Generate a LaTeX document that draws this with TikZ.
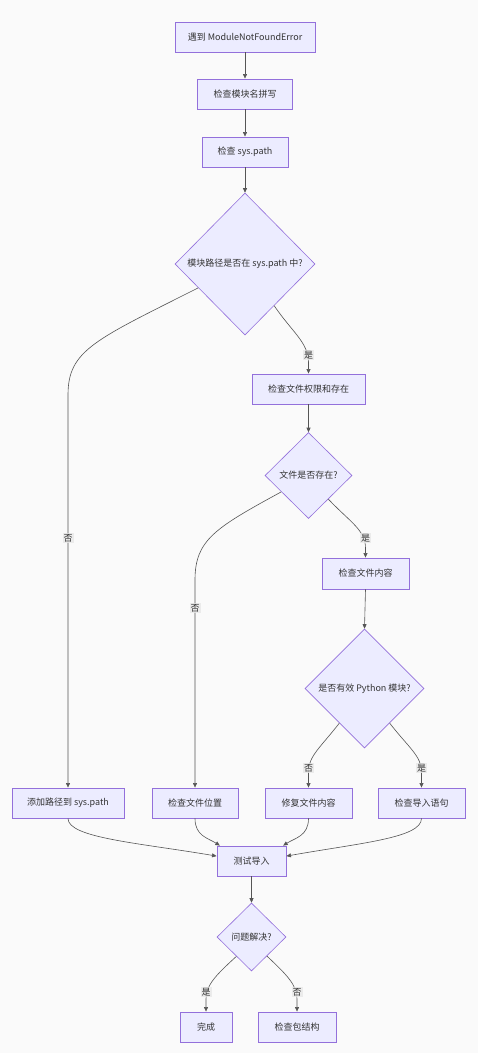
\documentclass[tikz,border=0pt]{standalone}
\usepackage{fontspec}
\setmainfont{Noto Sans CJK SC}
\usetikzlibrary{shapes.geometric,arrows.meta}
\definecolor{boxfill}{HTML}{ECECFF}
\definecolor{boxline}{HTML}{9370DB}
\definecolor{edgecol}{HTML}{555555}
\definecolor{bgcol}{HTML}{FAFAFA}
\definecolor{txtcol}{HTML}{333333}
\definecolor{lblbg}{HTML}{E8E8E8}
\begin{document}
\begin{tikzpicture}[x=1pt,y=-1pt,
  box/.style={rectangle, draw=boxline, fill=boxfill, line width=0.9pt, inner sep=0pt,
    minimum height=30pt, font=\fontsize{9}{10}\selectfont, text=txtcol},
  dia/.style={diamond, draw=boxline, fill=boxfill, line width=0.6pt, inner sep=0pt,
    aspect=1, font=\fontsize{9}{10}\selectfont, text=txtcol},
  edge/.style={draw=edgecol, line width=0.6pt, -{Triangle[length=4.5pt,width=4pt]}},
  lbl/.style={fill=lblbg, fill opacity=0.8, text opacity=1, inner sep=1pt,
    font=\fontsize{9}{10}\selectfont, text=txtcol}]
\useasboundingbox (0,0) rectangle (478,1053);
\fill[bgcol] (0,0) rectangle (478,1053);

% nodes
\node[box, minimum width=140pt] (A) at (245,37) {遇到 ModuleNotFoundError};
\node[box, minimum width=95pt] (B) at (245,94) {检查模块名拼写};
\node[box, minimum width=86pt] (C) at (245,152) {检查 sys.path};
\node[dia, minimum width=140pt, minimum height=142pt] (D) at (245,264) {模块路径是否在 sys.path 中?};
\node[box, minimum width=113pt] (E) at (308.5,389) {检查文件权限和存在};
\node[dia, minimum width=87pt, minimum height=86pt] (F) at (308.5,475.5) {文件是否存在?};
\node[box, minimum width=87pt, minimum height=31pt] (G) at (365.5,573.5) {检查文件内容};
\node[dia, minimum width=119pt, minimum height=119pt] (H) at (364.5,688.5) {是否有效 Python 模块?};
\node[box, minimum width=112pt] (I) at (68,803) {添加路径到 sys.path};
\node[box, minimum width=86pt] (J) at (195,803) {检查文件位置};
\node[box, minimum width=87pt] (K) at (308.5,803) {修复文件内容};
\node[box, minimum width=87pt] (L) at (421.5,803) {检查导入语句};
\node[box, minimum width=69pt] (M) at (251.5,861) {测试导入};
\node[dia, minimum width=69pt, minimum height=68pt] (N) at (251.5,937) {问题解决?};
\node[box, minimum width=52pt] (O) at (206,1027) {完成};
\node[box, minimum width=78pt] (P) at (297,1027) {检查包结构};

% edges
\draw[edge] (A.south) -- (B.north);
\draw[edge] (B.south) -- (C.north);
\draw[edge] (C.south) -- (D.north);
\draw[edge] (D.207) .. controls (95,340) and (68,350) .. (68,395) -- (I.north);
\draw[edge] (D.305) .. controls (292,332) and (308,342) .. (308.5,362) -- (E.north);
\draw[edge] (E.south) -- (F.north);
\draw[edge] (F.211) .. controls (215,528) and (195,540) .. (195,580) -- (J.north);
\draw[edge] (F.310) .. controls (350,522) and (365.5,530) .. (365.5,548) -- (G.north);
\draw[edge] (G.south) -- (H.north);
\draw[edge] (H.234) .. controls (320,748) and (308.5,756) .. (308.5,772) -- (K.north);
\draw[edge] (H.306) .. controls (409,748) and (421.5,756) .. (421.5,772) -- (L.north);
\draw[edge] (I.south) .. controls (68,838) and (140,843) .. (M.172);
\draw[edge] (J.south) .. controls (195,836) and (208,838) .. (M.154);
\draw[edge] (K.south) .. controls (308.5,836) and (295,838) .. (M.26);
\draw[edge] (L.south) .. controls (421.5,838) and (360,843) .. (M.8);
\draw[edge] (M.south) -- (N.north);
\draw[edge] (N.232) .. controls (216,975) and (206,985) .. (206,999) -- (O.north);
\draw[edge] (N.309) .. controls (287,975) and (297,985) .. (297,999) -- (P.north);

% edge labels
\node[lbl] (l1) at (68,538) {否};
\node[lbl] (l2) at (308.5,355) {是};
\node[lbl] (l3) at (195,608) {否};
\node[lbl] (l4) at (365.5,538) {是};
\node[lbl] (l5) at (308.5,768) {否};
\node[lbl] (l6) at (421.5,768) {是};
\node[lbl] (l7) at (206,992) {是};
\node[lbl] (l8) at (297,992) {否};
\end{tikzpicture}
\end{document}
